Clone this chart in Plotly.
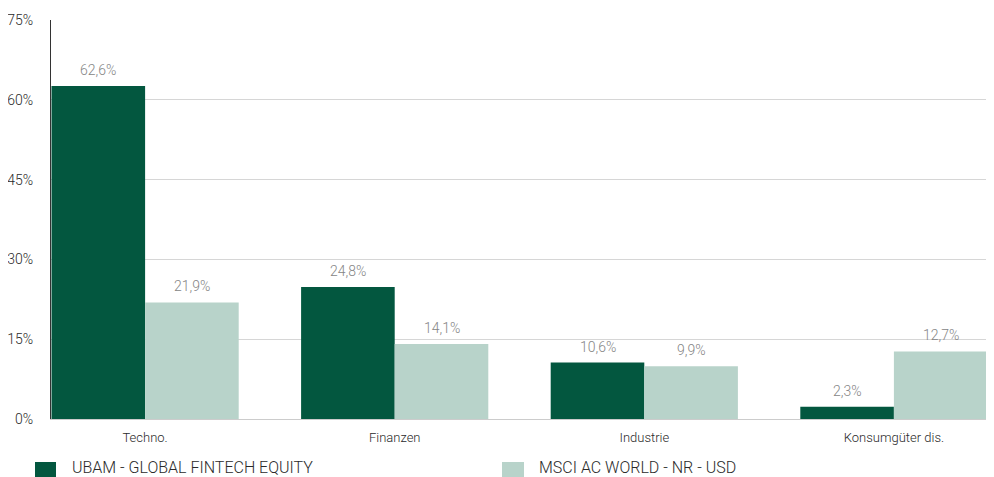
import plotly.graph_objects as go

categories = ["Techno.", "Finanzen", "Industrie", "Konsumgüter dis."]
fund_name = "UBAM - GLOBAL FINTECH EQUITY"
bench_name = "MSCI AC WORLD - NR - USD"
fund_values = [62.6, 24.8, 10.6, 2.3]
bench_values = [21.9, 14.1, 9.9, 12.7]
y_ticks = [0, 15, 30, 45, 60, 75]

DARK = "#03573F"
LIGHT = "#B8D3CA"
FONT = "Roboto"

xpos = list(range(len(categories)))

fig = go.Figure()
fig.add_trace(go.Bar(x=xpos, y=fund_values, name=fund_name, marker_color=DARK,
                     marker_line_width=0, showlegend=False))
fig.add_trace(go.Bar(x=xpos, y=bench_values, name=bench_name, marker_color=LIGHT,
                     marker_line_width=0, showlegend=False))

def fmt(v):
    return f"{v:.1f}".replace(".", ",") + "%"

off = 0.1875
for i, (a, b) in enumerate(zip(fund_values, bench_values)):
    for dx, v in ((-off, a), (off, b)):
        fig.add_annotation(x=i + dx, y=v, text=fmt(v), showarrow=False,
                           yanchor="bottom", yshift=6,
                           font=dict(family=FONT, size=14, color="#858585", weight=300))

# page offset (browser body margin)
OFF = 8
L, R, T, B = 51 - OFF, 988 - OFF, 20 - OFF, 419 - OFF
W, H = R - L, B - T
legend_items = [(fund_name, DARK, 35, 56, 70), (bench_name, LIGHT, 502, 524, 537)]
for name, col, sx0, sx1, tx in legend_items:
    fig.add_shape(type="rect", xref="paper", yref="paper",
                  x0=(sx0 - OFF - L) / W, x1=(sx1 - OFF - L) / W,
                  y0=(B - (462 - OFF)) / H, y1=(B - (480 - OFF)) / H,
                  fillcolor=col, line_width=0)
    fig.add_annotation(xref="paper", yref="paper", x=(tx - OFF - L) / W,
                       y=(B - (467 - OFF)) / H,
                       xanchor="left", yanchor="middle", showarrow=False, text=name,
                       font=dict(family=FONT, size=16, color="#2a2a2a", weight=300))

fig.update_layout(
    width=994, height=477,
    margin=dict(l=L, r=994 - R, t=T, b=477 - B),
    paper_bgcolor="white", plot_bgcolor="white",
    barmode="group", bargap=0.25, bargroupgap=0,
    font=dict(family=FONT, size=13, color="#2a2a2a"),
    xaxis=dict(tickmode="array", tickvals=xpos, ticktext=categories,
               range=[-0.377, 3.377], showgrid=False, showline=True,
               linecolor="#cccccc", linewidth=1, ticks="", zeroline=False,
               ticklabelstandoff=6, automargin=False,
               tickfont=dict(family=FONT, size=13, color="#2a2a2a", weight=300)),
    yaxis=dict(range=[0, 75], tickmode="array", tickvals=y_ticks,
               ticktext=[f"{t}%" for t in y_ticks], showgrid=True,
               gridcolor="#d6d6d6", gridwidth=1, showline=True,
               linecolor="#333333", linewidth=1, zeroline=False, ticks="",
               ticklabelstandoff=14, automargin=False,
               tickfont=dict(family=FONT, size=14, color="#2a2a2a", weight=300)),
)

fig.write_html("out.html")
